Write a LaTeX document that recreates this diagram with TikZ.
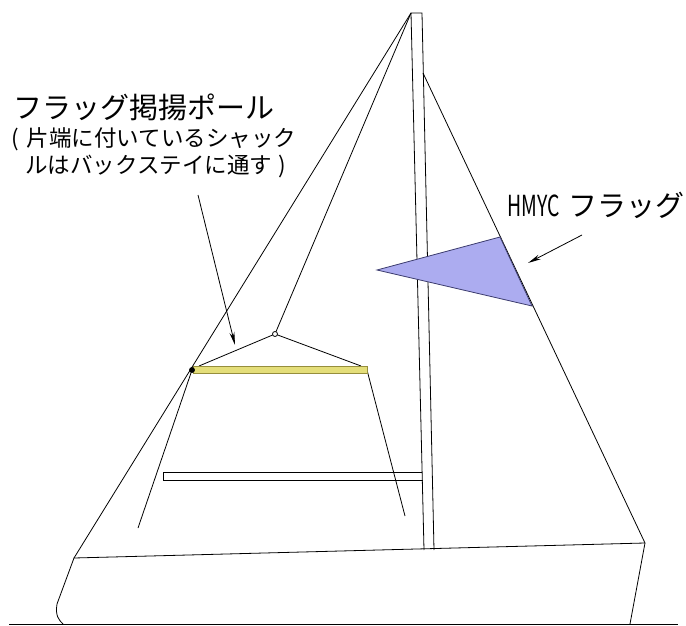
\documentclass[tikz,border=0pt]{standalone}
\usepackage{fontspec}
\newfontfamily\jp{Noto Sans CJK JP}
\usetikzlibrary{arrows.meta}
\definecolor{poleyellow}{RGB}{228,222,122}
\definecolor{poleedge}{RGB}{150,142,60}
\definecolor{flagblue}{RGB}{172,172,240}
\definecolor{flagedge}{RGB}{60,60,110}

\begin{document}
\begin{tikzpicture}[x=1pt,y=-1pt,line width=0.8pt]
\tikzstyle{every node}=[inner sep=0pt, anchor=base west]
\tikzstyle{big}=[font=\jp\fontsize{29}{29}\selectfont]
\tikzstyle{small}=[font=\jp\fontsize{22.5}{22.5}\selectfont]
\tikzstyle{pointer}=[-{Stealth[length=13pt,width=5pt]}]
\useasboundingbox (0,0) rectangle (686,626);

% points on the boat
\coordinate (mtl) at (411,13);
\coordinate (mtr) at (422,13);
\coordinate (mbl) at (424,550);
\coordinate (mbr) at (434,550);
\coordinate (hounds) at (423,73);
\coordinate (stern) at (74,558);
\coordinate (bow) at (645,543);
\coordinate (bridle) at (275,334);
\coordinate (poleL) at (192,370);
\coordinate (poleR) at (367,370);

% hull and water
\draw (stern) -- (bow);
\draw (stern) -- (57,604) .. controls (55,616) and (59,620) .. (63,624);
\draw (bow) -- (630,624);
\draw[line width=1.2pt] (9,624.5) -- (678,624.5);

% mast and boom
\draw (mbl) -- (mtl) -- (mtr) -- (mbr);
\draw (422.3,472) -- (163,472) -- (163,480) -- (422.5,480);

% stays and lines
\draw (mtl) -- (stern);
\draw (hounds) -- (bow);
\draw (mtl) -- (bridle);
\draw (bridle) -- (199,366);
\draw (bridle) -- (361,366);
\draw (poleL) -- (138,528);
\draw (poleR) -- (405,516);

% flag pole
\draw[fill=poleyellow, draw=poleedge] (193,366.5) rectangle (367,373.5);
\draw[fill=white] (bridle) circle (2.5);
\draw[fill=black] (poleL) circle (2.5);

% flag
\draw[fill=flagblue, draw=flagedge] (377,270) -- (500,237) -- (532,306) -- cycle;

% labels
\node[big] (poletitle) at (13,118) {フラッグ掲揚ポール};
\node[small] (note1) at (11,146.5) {(\hspace{0.35em}片端に付いているシャック};
\node[small] (note2) at (25,173) {ルはバックステイに通す\hspace{0.3em})};
\node[big] (flagtitle) at (507,216) {\scalebox{0.67}[1]{HMYC}\hspace{0.3em}フラッグ};

\coordinate (poletail) at (198,195);
\coordinate (polehead) at (235,345);
\coordinate (flagtail) at (582,235);
\coordinate (flaghead) at (528,263);
\draw[pointer] (poletail) -- (polehead);
\draw[pointer] (flagtail) -- (flaghead);
\end{tikzpicture}
\end{document}
